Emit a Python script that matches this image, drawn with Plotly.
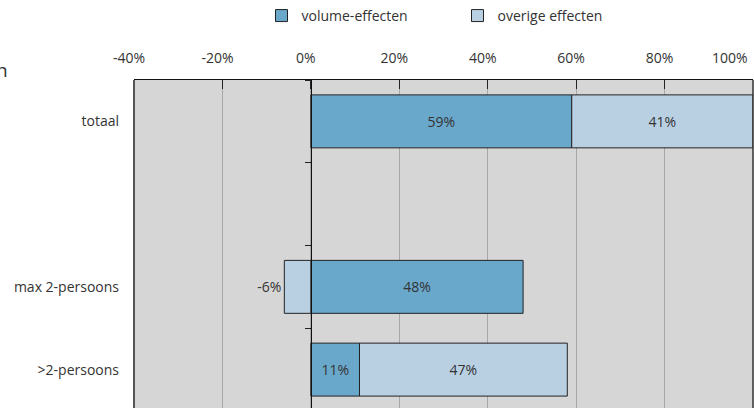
import plotly.graph_objects as go

categories = ["totaal", " ", "max 2-persoons", ">2-persoons"]
volume = [59, None, 48, 11]
overige = [41, None, -6, 47]
overige_pos = ["inside", "inside", "outside", "inside"]
x_ticks = [-40, -20, 0, 20, 40, 60, 80, 100]

FONT = "'Open Sans', Lato, sans-serif"
DARK = "#6aa8cb"
LIGHT = "#b9d0e3"
NBSP = "\u00a0"


def labels(vals):
    return ["" if v is None else f"{v}%" for v in vals]


# last tick label sits inside the canvas, as in the source chart
tick_text = [f"{v}%" for v in x_ticks]
tick_text[-1] = tick_text[-1] + NBSP * 10

fig = go.Figure()
fig.add_trace(go.Bar(
    y=categories, x=volume, orientation="h", name="volume-effecten",
    marker=dict(color=DARK, line=dict(color="#222222", width=1)),
    width=0.64, text=labels(volume), textposition="inside",
    insidetextanchor="middle", textfont=dict(color="#333333", size=14),
    cliponaxis=False,
))
fig.add_trace(go.Bar(
    y=categories, x=overige, orientation="h", name="overige effecten",
    marker=dict(color=LIGHT, line=dict(color="#222222", width=1)),
    width=0.64, text=labels(overige), textposition=overige_pos,
    insidetextanchor="middle", textfont=dict(color="#333333", size=14),
    cliponaxis=False,
))

fig.update_layout(
    width=754, height=408,
    margin=dict(l=134, r=1, t=80, b=0, autoexpand=False),
    barmode="relative",
    bargap=0.36,
    paper_bgcolor="white",
    plot_bgcolor="#d6d6d6",
    font=dict(family=FONT, size=14, color="#333333"),
    uniformtext=dict(mode="show", minsize=14),
    legend=dict(
        orientation="h", x=0.206, y=1.244, xanchor="left", yanchor="top",
        entrywidth=151, font=dict(size=14), traceorder="normal",
        bgcolor="rgba(0,0,0,0)",
    ),
    showlegend=True,
)

fig.update_xaxes(
    side="top", range=[-40, 100], tickvals=x_ticks,
    ticktext=tick_text, automargin=False, ticklabeloverflow="allow",
    showgrid=True, gridcolor="#a8a8a8", gridwidth=1,
    zeroline=False, ticks="inside", ticklen=9, tickcolor="#222222",
    showline=True, linecolor="#111111", linewidth=1,
    ticklabelstandoff=10, ticklabelshift=-5,
    tickfont=dict(size=14, color="#333333"),
)
fig.update_yaxes(
    type="category", categoryorder="array", categoryarray=categories,
    range=[3.464, -0.5], anchor="free", position=40 / 140, automargin=False,
    showline=True, linecolor="#111111", linewidth=1,
    ticks="outside", ticklen=6, tickcolor="#222222", tickson="boundaries",
    showgrid=False, zeroline=False,
    ticklabelstandoff=189, tickfont=dict(size=14, color="#333333"),
)

# plot frame (left / right borders)
fig.add_shape(type="line", xref="paper", yref="paper", x0=0, x1=0, y0=0, y1=1,
              line=dict(color="#555555", width=2))
fig.add_shape(type="line", xref="paper", yref="paper", x0=1, x1=1, y0=0, y1=1,
              line=dict(color="#333333", width=1.5))

# cut-off text fragment at the left edge
fig.add_annotation(text="n", xref="paper", yref="paper", x=-0.2258, y=1.03,
                   xanchor="left", yanchor="middle", showarrow=False,
                   font=dict(size=19, color="#333333"))

# page body margin would otherwise offset the figure by 8px
fig.write_html("out.html", config={"displayModeBar": False},
               post_script="document.body.style.margin='0';")
